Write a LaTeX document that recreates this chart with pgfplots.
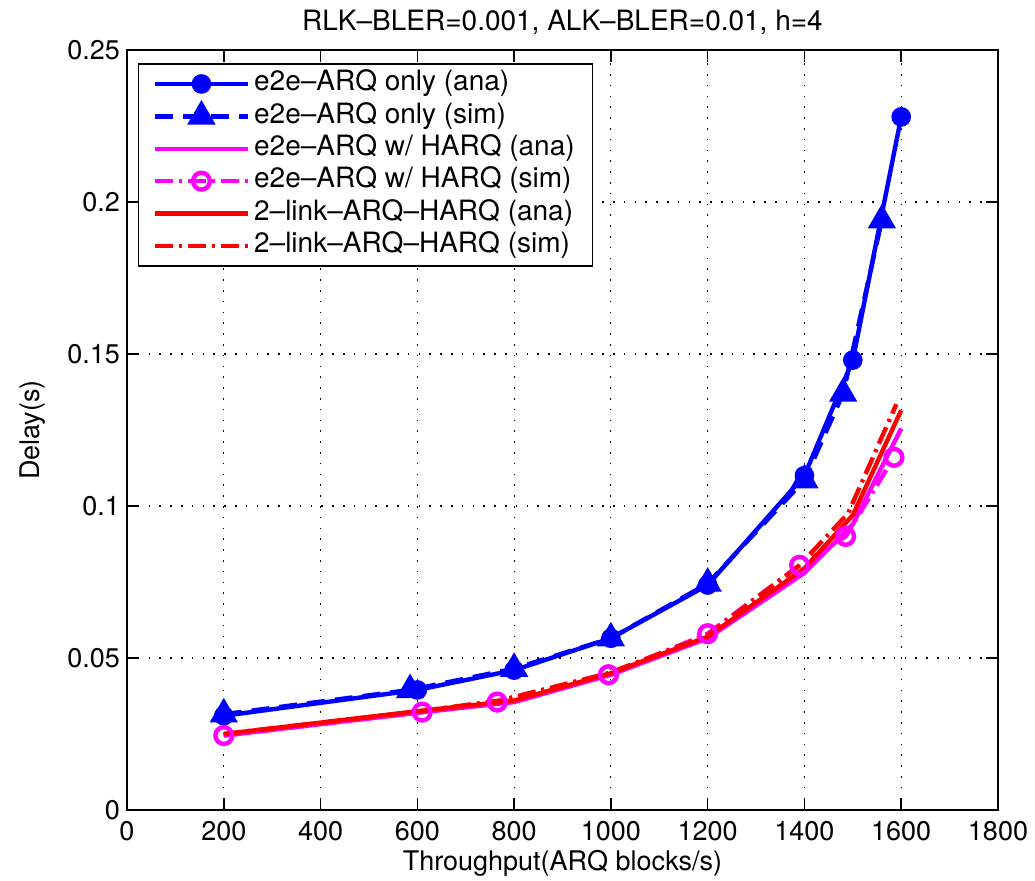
\documentclass[border=0pt]{standalone}
\usepackage{fontspec}
\setmainfont{TeX Gyre Heros}
\usepackage{pgfplots}
\pgfplotsset{compat=1.18}
\definecolor{mblue}{rgb}{0,0,1}
\definecolor{mmag}{rgb}{1,0,1}
\definecolor{mred}{rgb}{1,0,0}
\newcommand{\fs}{\fontsize{13.5}{16}\selectfont}
\newcommand{\fl}{\fontsize{14}{16}\selectfont}

\begin{document}
\begin{tikzpicture}
\useasboundingbox (-63.5pt,-35pt) rectangle (454pt,405pt);
\begin{axis}[
  at={(0pt,0pt)}, anchor=south west,
  scale only axis, width=435.5pt, height=380pt,
  xmin=0, xmax=1800, ymin=0, ymax=0.25,
  xtick={0,200,...,1800},
  xticklabels={0,200,400,600,800,1000,1200,1400,1600,1800},
  ytick={0,0.05,0.1,0.15,0.2,0.25},
  yticklabels={0,0.05,0.1,0.15,0.2,0.25},
  /pgf/number format/assume math mode=true,
  tick label style={font=\fs},
  xticklabel style={yshift=-2pt},
  tick align=inside,
  major tick length=6pt,
  tick style={black, line width=0.75pt},
  axis line style={line width=0.75pt},
  grid=major,
  major grid style={black, line width=0.6pt, dash pattern=on 0.8pt off 4.6pt},
  xlabel={Throughput(ARQ blocks/s)},
  ylabel={Delay(s)},
  xlabel style={font=\fs, at={(axis description cs:0.5,0)}, anchor=base, yshift=-30pt},
  ylabel style={font=\fs, at={(axis description cs:0,0.5)}, anchor=base, yshift=43.5pt},
  title={RLK--BLER=0.001, ALK--BLER=0.01, h=4},
  every axis title shift=0pt,
  title style={font=\fl, at={(axis description cs:0.5,1)}, anchor=base, yshift=10pt},
  legend style={at={(axis description cs:0,1)}, anchor=north west,
    xshift=5.5pt, yshift=-6.5pt, draw=black, line width=0.75pt, font=\fl,
    inner xsep=7pt, inner ysep=2pt,
    nodes={inner sep=2pt, text height=9.5pt, text depth=2.7pt}},
  legend cell align=left,
  legend image code/.code={\draw[mark repeat=2,mark phase=2,#1]
    plot coordinates {(0pt,0pt) (23.25pt,0pt) (46.5pt,0pt)};},
]
% e2e-ARQ only (ana)
\addplot[mblue, line width=2.2pt, solid, mark=*, mark size=3.8pt, mark options={solid, fill=mblue}] coordinates {
  (200,0.031) (600,0.0395) (800,0.046) (1000,0.0565) (1200,0.074)
  (1400,0.110) (1500,0.148) (1600,0.228)
};
\addlegendentry{e2e--ARQ only (ana)}
% e2e-ARQ only (sim)
\addplot[mblue, line width=2.2pt, dash pattern=on 9pt off 5pt, mark=triangle*, mark size=6pt, mark options={solid, fill=mblue}] coordinates {
  (200,0.0315) (585,0.0395) (800,0.0465) (1000,0.0565) (1200,0.0745)
  (1400,0.1085) (1480,0.137) (1560,0.194)
};
\addlegendentry{e2e--ARQ only (sim)}
% e2e-ARQ w/ HARQ (ana)
\addplot[mmag, line width=2.2pt, solid] coordinates {
  (200,0.0245) (600,0.032) (800,0.0355) (1000,0.0445) (1200,0.0565)
  (1400,0.078) (1500,0.094) (1600,0.1255)
};
\addlegendentry{e2e--ARQ w/ HARQ (ana)}
% e2e-ARQ w/ HARQ (sim)
\addplot[mmag, line width=2.2pt, dash pattern=on 9pt off 3pt on 1.5pt off 3pt, mark=o, mark size=4.2pt, mark options={solid}] coordinates {
  (200,0.0245) (610,0.0322) (765,0.0355) (995,0.0445) (1200,0.058)
  (1390,0.0805) (1485,0.090) (1585,0.116)
};
\addlegendentry{e2e--ARQ w/ HARQ (sim)}
% 2-link-ARQ-HARQ (ana)
\addplot[mred, line width=2.2pt, solid] coordinates {
  (200,0.025) (600,0.0325) (800,0.036) (1000,0.045) (1200,0.057)
  (1400,0.0795) (1500,0.097) (1600,0.1315)
};
\addlegendentry{2--link--ARQ--HARQ (ana)}
% 2-link-ARQ-HARQ (sim)
\addplot[mred, line width=2.2pt, dash pattern=on 9pt off 3pt on 1.5pt off 3pt] coordinates {
  (200,0.025) (605,0.0325) (770,0.036) (995,0.045) (1200,0.0575)
  (1390,0.0805) (1490,0.0975) (1590,0.1335)
};
\addlegendentry{2--link--ARQ--HARQ (sim)}
\end{axis}
\end{tikzpicture}
\end{document}
